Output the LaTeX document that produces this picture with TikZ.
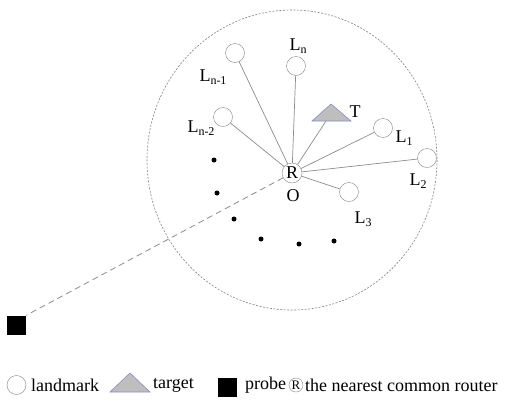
\documentclass[tikz,border=0pt]{standalone}
\usepackage{fontspec}
\setmainfont{Liberation Serif}
\newcommand\Lsub[1]{L\raisebox{-0.4ex}{\fontsize{12}{12}\selectfont #1}}
\definecolor{linegray}{RGB}{140,140,140}
\definecolor{ringgray}{RGB}{130,130,130}
\definecolor{trifill}{RGB}{190,190,190}
\definecolor{triedge}{RGB}{140,140,200}
\begin{document}
\begin{tikzpicture}[x=1pt,y=-1pt,
  landmark/.style={circle,draw=ringgray,fill=white,minimum size=19pt,inner sep=0pt},
  router/.style={circle,draw=ringgray,fill=white,minimum size=20pt,inner sep=0pt,font=\fontsize{18}{18}\selectfont},
  lab/.style={font=\fontsize{18}{18}\selectfont,inner sep=0pt},
  conn/.style={draw=linegray,line width=0.7pt},
  dotmark/.style={circle,fill=black,minimum size=5pt,inner sep=0pt},
  probebox/.style={fill=black,minimum size=19pt,inner sep=0pt}]
\useasboundingbox (0,0) rectangle (521,400);
% big dashed circle
\draw[ringgray,dash pattern=on 2pt off 1.5pt,line width=0.6pt] (292,160) ellipse [x radius=145,y radius=150];
% probe
\node[probebox] (P) at (16.5,325) {};
% router
\node[router] (R) at (292,173) {R};
\draw[linegray,dash pattern=on 6pt off 4pt,line width=0.8pt] (R) -- (P.north east);
% landmarks
\node[landmark] (Lnm1) at (235,53) {};
\node[landmark] (Ln) at (296,66) {};
\node[landmark] (Lnm2) at (223,117) {};
\node[landmark] (L1) at (383,128) {};
\node[landmark] (L2) at (427,158) {};
\node[landmark] (L3) at (349,192) {};
% target
\draw[draw=triedge,fill=trifill,line width=0.6pt] (331,104) -- (351,121) -- (312,121) -- cycle;
\coordinate (Tb) at (326,121);
% connectors
\foreach \n in {Lnm1,Ln,Lnm2,L1,L2,L3} \draw[conn] (R) -- (\n);
\draw[conn] (R) -- (Tb);
% labels
\node[lab] (tLn) at (298,46) {\Lsub{n}};
\node[lab] (tLnm1) at (213,77) {\Lsub{n-1}};
\node[lab] (tLnm2) at (201,128) {\Lsub{n-2}};
\node[lab] (tT) at (355,112) {T};
\node[lab] (tL1) at (404,138) {\Lsub{1}};
\node[lab] (tL2) at (418,181) {\Lsub{2}};
\node[lab] (tL3) at (363,219) {\Lsub{3}};
\node[lab] (tO) at (293,196) {O};
% dots
\node[dotmark] (d1) at (214,160) {};
\node[dotmark] (d2) at (217,193) {};
\node[dotmark] (d3) at (234,219) {};
\node[dotmark] (d4) at (261,239) {};
\node[dotmark] (d5) at (299,244) {};
\node[dotmark] (d6) at (334,241) {};
% legend
\node[landmark] (gL) at (16.5,385) {};
\node[lab,anchor=west] (gLt) at (31,385) {landmark};
\draw[draw=triedge,fill=trifill,line width=0.6pt] (130,373) -- (150,392) -- (110,392) -- cycle;
\node[lab,anchor=west] (gTt) at (153,385) {target};
\node[probebox] (gP) at (227,387) {};
\node[lab,anchor=west] (gPt) at (245,385) {probe};
\node[circle,draw=ringgray,minimum size=14pt,inner sep=0pt,font=\fontsize{13}{13}\selectfont] (gR) at (296,385) {R};
\node[lab,anchor=west] (gRt) at (305,385) {the nearest common router};
\end{tikzpicture}
\end{document}
